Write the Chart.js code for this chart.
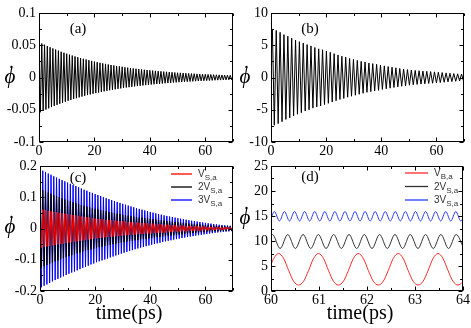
<!DOCTYPE html>
<html>
<head>
<meta charset="utf-8">
<script src="https://cdn.jsdelivr.net/npm/chart.js@4.4.0/dist/chart.umd.min.js"></script>
<style>
html, body { margin: 0; padding: 0; background: #fff; }
#wrap { position: relative; width: 471px; height: 328px; overflow: hidden; }
canvas { position: absolute; }
</style>
</head>
<body>
<div id="wrap">
  <canvas id="ca" width="236" height="160" style="left:0;top:0"></canvas>
  <canvas id="cb" width="235" height="160" style="left:236px;top:0"></canvas>
  <canvas id="cc" width="236" height="180" style="left:0;top:148px"></canvas>
  <canvas id="cd" width="235" height="180" style="left:236px;top:148px"></canvas>
</div>
<script>
// ---- data ----
// (a) turning points, one every 0.5 ps from t = 0
var startA = 0, stepA = 0.5;
var phiA = [
  .0550,-.0539,.0528,-.0518,.0508,-.0498,.0488,-.0478,.0469,-.0459,
  .0450,-.0441,.0433,-.0424,.0416,-.0407,.0399,-.0391,.0384,-.0376,
  .0369,-.0361,.0354,-.0347,.0340,-.0334,.0327,-.0321,.0314,-.0308,
  .0302,-.0296,.0290,-.0284,.0279,-.0273,.0268,-.0263,.0257,-.0252,
  .0247,-.0242,.0238,-.0233,.0228,-.0224,.0219,-.0215,.0211,-.0206,
  .0202,-.0198,.0194,-.0191,.0187,-.0183,.0179,-.0176,.0172,-.0169,
  .0166,-.0162,.0159,-.0156,.0153,-.0150,.0147,-.0144,.0141,-.0138,
  .0136,-.0133,.0130,-.0128,.0125,-.0123,.0120,-.0118,.0116,-.0113,
  .0111,-.0109,.0107,-.0105,.0103,-.0101,.0098,-.0097,.0095,-.0093,
  .0091,-.0089,.0088,-.0086,.0084,-.0082,.0081,-.0079,.0078,-.0076,
  .0074,-.0073,.0072,-.0070,.0069,-.0067,.0066,-.0065,.0063,-.0062,
  .0061,-.0060,.0059,-.0057,.0056,-.0055,.0054,-.0053,.0052,-.0051,
  .0050,-.0049,.0048,-.0047,.0046,-.0045,.0044,-.0043,.0042,-.0041,
  .0041,-.0040,.0039,-.0038,.0037,-.0037,.0036,-.0035,.0034,-.0034,
  .0033];

// (b) turning points, one every 0.7 ps from t = 0.5
var startB = 0.5, stepB = 0.7;
var phiB = [
  7.5,-7.4,7.3,-7.15,7.0,-6.85,6.65,-6.5,6.4,-6.25,
  6.1,-5.95,5.8,-5.7,5.55,-5.45,5.35,-5.2,5.1,-5.0,
  4.9,-4.75,4.65,-4.55,4.45,-4.4,4.3,-4.2,4.1,-4.0,
  3.9,-3.8,3.7,-3.6,3.5,-3.4,3.3,-3.25,3.15,-3.05,
  2.95,-2.9,2.8,-2.75,2.65,-2.6,2.5,-2.45,2.4,-2.3,
  2.25,-2.2,2.15,-2.1,2.05,-2.0,1.9,-1.85,1.8,-1.75,
  1.7,-1.65,1.6,-1.55,1.5,-1.45,1.4,-1.35,1.3,-1.27,
  1.23,-1.2,1.16,-1.13,1.1,-1.08,1.05,-1.02,1.0,-0.98,
  0.96,-0.93,0.91,-0.89,0.87,-0.85,0.82,-0.79,0.77,-0.74,
  0.71,-0.68,0.65,-0.63,0.61,-0.59,0.57,-0.55,0.53,-0.5];

// (c) turning points, one every 0.5 ps from t = 0
var startC = 0, stepC = 0.5;
var phiC1 = [
  .062,-.0611,.0602,-.0593,.0584,-.0575,.0566,-.0557,.0548,-.0539,
  .053,-.0523,.0516,-.0509,.0502,-.0495,.0488,-.0481,.0474,-.0467,
  .046,-.0453,.0446,-.0439,.0432,-.0425,.0418,-.0411,.0404,-.0397,
  .039,-.0383,.0376,-.0369,.0362,-.0355,.0348,-.0341,.0334,-.0327,
  .032,-.0315,.031,-.0305,.030,-.0295,.029,-.0285,.028,-.0275,
  .027,-.0266,.0262,-.0258,.0254,-.025,.0246,-.0242,.0238,-.0234,
  .023,-.0226,.0222,-.0218,.0214,-.021,.0206,-.0202,.0198,-.0194,
  .019,-.0187,.0184,-.0181,.0178,-.0175,.0172,-.0169,.0166,-.0163,
  .016,-.0157,.0154,-.0151,.0148,-.0145,.0142,-.0139,.0136,-.0133,
  .013,-.0127,.0124,-.0121,.0118,-.0115,.0112,-.0109,.0106,-.0103,
  .010,-.0098,.0096,-.0094,.0092,-.009,.0088,-.0086,.0084,-.0082,
  .008,-.0078,.0076,-.0074,.0072,-.007,.0068,-.0066,.0064,-.0062,
  .006,-.0059,.0057,-.0056,.0054,-.0053,.0051,-.005,.0048,-.0047,
  .0045,-.0044,.0043,-.0042,.0041,-.004,.0039,-.0038,.0037,-.0036,
  .0035];
var phiC2 = [
  .127,-.125,.123,-.121,.119,-.117,.115,-.113,.111,-.109,
  .107,-.1053,.1036,-.1019,.1002,-.0985,.0968,-.0951,.0934,-.0917,
  .090,-.0885,.087,-.0855,.084,-.0825,.081,-.0795,.078,-.0765,
  .075,-.0738,.0726,-.0714,.0702,-.069,.0678,-.0666,.0654,-.0642,
  .063,-.062,.061,-.060,.059,-.058,.057,-.056,.055,-.054,
  .053,-.0521,.0512,-.0503,.0494,-.0485,.0476,-.0467,.0458,-.0449,
  .044,-.0433,.0426,-.0419,.0412,-.0405,.0398,-.0391,.0384,-.0377,
  .037,-.0364,.0358,-.0352,.0346,-.034,.0334,-.0328,.0322,-.0316,
  .031,-.0304,.0298,-.0292,.0286,-.028,.0274,-.0268,.0262,-.0256,
  .025,-.0245,.024,-.0235,.023,-.0225,.022,-.0215,.021,-.0205,
  .020,-.0195,.019,-.0185,.018,-.0175,.017,-.0165,.016,-.0155,
  .015,-.0146,.0142,-.0138,.0134,-.013,.0126,-.0122,.0118,-.0114,
  .011,-.0107,.0104,-.0101,.0098,-.0095,.0092,-.0089,.0086,-.0083,
  .008,-.0078,.0076,-.0074,.0072,-.007,.0068,-.0066,.0064,-.0062,
  .006];
var phiC3 = [
  .190,-.188,.185,-.183,.181,-.179,.176,-.174,.172,-.169,
  .167,-.165,.163,-.161,.159,-.157,.155,-.153,.151,-.149,
  .147,-.145,.143,-.141,.139,-.138,.136,-.134,.132,-.130,
  .128,-.126,.124,-.123,.121,-.119,.117,-.115,.114,-.112,
  .110,-.108,.107,-.105,.104,-.102,.100,-.099,.097,-.096,
  .094,-.0925,.091,-.0895,.088,-.0865,.085,-.0835,.082,-.0805,
  .079,-.0776,.0762,-.0748,.0734,-.072,.0706,-.0692,.0678,-.0664,
  .065,-.0638,.0626,-.0614,.0602,-.059,.0578,-.0566,.0554,-.0542,
  .053,-.0519,.0508,-.0497,.0486,-.0475,.0464,-.0453,.0442,-.0431,
  .042,-.0411,.0402,-.0393,.0384,-.0375,.0366,-.0357,.0348,-.0339,
  .033,-.0322,.0314,-.0306,.0298,-.029,.0282,-.0274,.0266,-.0258,
  .025,-.0243,.0236,-.0229,.0222,-.0215,.0208,-.0201,.0194,-.0187,
  .018,-.0174,.0168,-.0162,.0156,-.015,.0144,-.0138,.0132,-.0126,
  .012,-.0116,.0112,-.0108,.0104,-.010,.0096,-.0092,.0088,-.0084,
  .008];

// (d) 60 - 64 ps
var tD1 = [60.0,60.056,60.16,60.264,60.368,60.471,60.575,60.679,60.783,60.886,
  60.99,61.094,61.198,61.301,61.405,61.509,61.613,61.716,61.82,61.924,
  62.028,62.131,62.235,62.339,62.443,62.546,62.65,62.754,62.858,62.961,
  63.065,63.169,63.273,63.376,63.48,63.584,63.688,63.791,63.895,64.0];
var phiD1 = [5.3,6.5,7.5,6.5,4.1,1.95,1.2,1.95,4.1,6.5,
  7.5,6.5,4.1,1.95,1.2,1.95,4.1,6.5,7.5,6.5,
  4.1,1.95,1.2,1.95,4.1,6.5,7.5,6.5,4.1,1.95,
  1.2,1.95,4.1,6.5,7.5,6.5,4.1,1.95,1.2,1.8];
var tD2 = [60.0,60.03,60.19,60.349,60.508,60.668,60.828,60.987,61.147,61.306,
  61.466,61.625,61.785,61.944,62.104,62.263,62.423,62.582,62.742,62.901,
  63.061,63.22,63.38,63.539,63.699,63.858,64.018];
var phiD2 = [11.25,11.3,8.5,11.3,8.5,11.3,8.5,11.3,8.5,11.3,
  8.5,11.3,8.5,11.3,8.5,11.3,8.5,11.3,8.5,11.3,
  8.5,11.3,8.5,11.3,8.5,11.3,8.5];
var tD3 = [60.0,60.07,60.175,60.28,60.385,60.49,60.595,60.70,60.805,60.91,
  61.015,61.12,61.225,61.33,61.435,61.54,61.645,61.75,61.855,61.96,
  62.065,62.17,62.275,62.38,62.485,62.59,62.695,62.80,62.905,63.01,
  63.115,63.22,63.325,63.43,63.535,63.64,63.745,63.85,63.955,64.06];
var phiD3 = [14.5,15.9,14.0,15.9,14.0,15.9,14.0,15.9,14.0,15.9,
  14.0,15.9,14.0,15.9,14.0,15.9,14.0,15.9,14.0,15.9,
  14.0,15.9,14.0,15.9,14.0,15.9,14.0,15.9,14.0,15.9,
  14.0,15.9,14.0,15.9,14.0,15.9,14.0,15.9,14.0,15.9];

// tick labels
var xTicksLong = [0, 20, 40, 60];
var xTicksD = [60, 61, 62, 63, 64];
var yTicksA = [-0.1, -0.05, 0, 0.05, 0.1];
var yTicksB = [-10, -5, 0, 5, 10];
var yTicksC = [-0.2, -0.1, 0, 0.1, 0.2];
var yTicksD = [0, 5, 10, 15, 20, 25];

var seriesNames = ['V', '2V', '3V'];

// ---- helpers ----
function pts(start, step, vals) {
  return vals.map(function(v, i) { return {x: start + i * step, y: v}; });
}
function pairs(ts, vals) {
  return vals.map(function(v, i) { return {x: ts[i], y: v}; });
}

var serif = '"Liberation Serif", "DejaVu Serif", serif';

var deco = {
  id: 'deco',
  afterDraw: function(chart, args, o) {
    var ctx = chart.ctx, a = chart.chartArea;
    var xs = chart.scales.x, ys = chart.scales.y;
    ctx.save();
    // frame
    ctx.strokeStyle = '#000';
    ctx.lineWidth = 1;
    var L = Math.round(a.left) + 0.5, R = Math.round(a.right) - 0.5;
    var T = Math.round(a.top) + 0.5, B = Math.round(a.bottom) - 0.5;
    ctx.strokeRect(L, T, R - L, B - T);
    // inward ticks on all four sides
    function marks(scale, horiz) {
      var vals = scale.ticks.map(function(t) { return t.value; });
      var step = vals[1] - vals[0];
      var list = [];
      vals.forEach(function(v) {
        list.push([v, 4]);
        if (v + step / 2 < scale.max + 1e-9) list.push([v + step / 2, 2.5]);
      });
      if (vals[0] - step / 2 > scale.min - 1e-9) list.push([vals[0] - step / 2, 2.5]);
      ctx.beginPath();
      list.forEach(function(m) {
        var p = Math.round(scale.getPixelForValue(m[0])) + 0.5;
        if (horiz) {
          ctx.moveTo(p, B); ctx.lineTo(p, B - m[1]);
          ctx.moveTo(p, T); ctx.lineTo(p, T + m[1]);
        } else {
          ctx.moveTo(L, p); ctx.lineTo(L + m[1], p);
          ctx.moveTo(R, p); ctx.lineTo(R - m[1], p);
        }
      });
      ctx.stroke();
    }
    marks(xs, true);
    marks(ys, false);

    ctx.fillStyle = '#000';
    ctx.textAlign = 'center';
    ctx.textBaseline = 'middle';
    ctx.font = '15px ' + serif;
    ctx.fillText(o.tag, o.tagX, o.tagY);
    // y label: phi with a dot over it
    ctx.font = 'italic 21px ' + serif;
    ctx.fillText('\u03D5', o.labX, o.labY);
    ctx.beginPath();
    ctx.arc(o.labX + 1.5, o.labY - 10, 1.2, 0, Math.PI * 2);
    ctx.fill();
    if (o.title) {
      ctx.font = '20px ' + serif;
      ctx.fillText('time(ps)', o.titleX, o.titleY);
    }
    if (o.legend) {
      var lg = o.legend;
      chart.data.datasets.forEach(function(ds, i) {
        var y = lg.y0 + i * lg.dy;
        ctx.strokeStyle = ds.borderColor;
        ctx.lineWidth = 1.3;
        ctx.beginPath();
        ctx.moveTo(lg.x1, y); ctx.lineTo(lg.x2, y);
        ctx.stroke();
        ctx.fillStyle = '#333';
        ctx.textAlign = 'left';
        ctx.textBaseline = 'alphabetic';
        ctx.font = '10px "Liberation Sans", Arial, sans-serif';
        ctx.fillText(ds.label, lg.tx, y + 3);
        var w = ctx.measureText(ds.label).width;
        ctx.font = '8px "Liberation Sans", Arial, sans-serif';
        ctx.fillText(lg.subs[i], lg.tx + w, y + 6);
      });
    }
    ctx.restore();
  }
};

function panel(id, cfg) {
  return new Chart(document.getElementById(id), {
    type: 'line',
    data: { datasets: cfg.datasets },
    options: {
      responsive: false,
      animation: false,
      events: [],
      layout: { padding: cfg.pad, autoPadding: false },
      elements: { point: { radius: 0 }, line: { borderWidth: 1 } },
      plugins: { legend: { display: false }, tooltip: { enabled: false }, deco: cfg.deco },
      scales: {
        x: {
          type: 'linear', min: cfg.xmin, max: cfg.xmax,
          grid: { display: false, drawTicks: false },
          border: { display: false },
          ticks: { color: '#000', font: { family: serif, size: 14 }, padding: 1, autoSkip: false, maxRotation: 0 },
          afterBuildTicks: function(s) { s.ticks = cfg.xticks.map(function(v) { return {value: v}; }); },
          afterFit: function(s) { s.height = cfg.xh; }
        },
        y: {
          type: 'linear', min: cfg.ymin, max: cfg.ymax,
          grid: { display: false, drawTicks: false },
          border: { display: false },
          ticks: { color: '#000', font: { family: serif, size: 14 }, padding: 3, autoSkip: false,
                   callback: function(v) { return String(v); } },
          afterBuildTicks: function(s) { s.ticks = cfg.yticks.map(function(v) { return {value: v}; }); },
          afterFit: function(s) { s.width = cfg.yw; }
        }
      }
    },
    plugins: [deco]
  });
}

panel('ca', {
  datasets: [{ data: pts(startA, stepA, phiA), borderColor: '#000', tension: 0 }],
  pad: { left: 0, top: 13, right: 3, bottom: 0 }, yw: 39, xh: 18,
  xmin: 0, xmax: 70, xticks: xTicksLong, ymin: -0.1, ymax: 0.1, yticks: yTicksA,
  deco: { tag: '(a)', tagX: 78, tagY: 29, labX: 10, labY: 77 }
});

panel('cb', {
  datasets: [{ data: pts(startB, stepB, phiB), borderColor: '#000', tension: 0 }],
  pad: { left: 0, top: 13, right: 7, bottom: 0 }, yw: 35, xh: 18,
  xmin: 0, xmax: 70, xticks: xTicksLong, ymin: -10, ymax: 10, yticks: yTicksB,
  deco: { tag: '(b)', tagX: 74, tagY: 29, labX: 9, labY: 77 }
});

panel('cc', {
  datasets: [
    { label: seriesNames[0], data: pts(startC, stepC, phiC1), borderColor: '#ff0000', tension: 0 },
    { label: seriesNames[1], data: pts(startC, stepC, phiC2), borderColor: '#000000', tension: 0 },
    { label: seriesNames[2], data: pts(startC, stepC, phiC3), borderColor: '#0000ff', tension: 0 }
  ],
  pad: { left: 0, top: 18, right: 3, bottom: 0 }, yw: 40, xh: 37,
  xmin: 0, xmax: 70, xticks: xTicksLong, ymin: -0.2, ymax: 0.2, yticks: yTicksC,
  deco: { tag: '(c)', tagX: 78, tagY: 30, labX: 10, labY: 79, title: true, titleX: 129, titleY: 166,
          legend: { x1: 171, x2: 192, tx: 198, y0: 26, dy: 13, subs: ['S,a', 'S,a', 'S,a'] } }
});

panel('cd', {
  datasets: [
    { label: seriesNames[0], data: pairs(tD1, phiD1), borderColor: '#ff2a2a', cubicInterpolationMode: 'monotone' },
    { label: seriesNames[1], data: pairs(tD2, phiD2), borderColor: '#333333', cubicInterpolationMode: 'monotone' },
    { label: seriesNames[2], data: pairs(tD3, phiD3), borderColor: '#2b3cff', cubicInterpolationMode: 'monotone' }
  ],
  pad: { left: 0, top: 18, right: 6, bottom: 0 }, yw: 35, xh: 37,
  xmin: 60, xmax: 64, xticks: xTicksD, ymin: 0, ymax: 25, yticks: yTicksD,
  deco: { tag: '(d)', tagX: 74, tagY: 29, labX: 9, labY: 70, title: true, titleX: 124, titleY: 166,
          legend: { x1: 169, x2: 192, tx: 198, y0: 25, dy: 13.5, subs: ['B,a', 'S,a', 'S,a'] } }
});
</script>
</body>
</html>
